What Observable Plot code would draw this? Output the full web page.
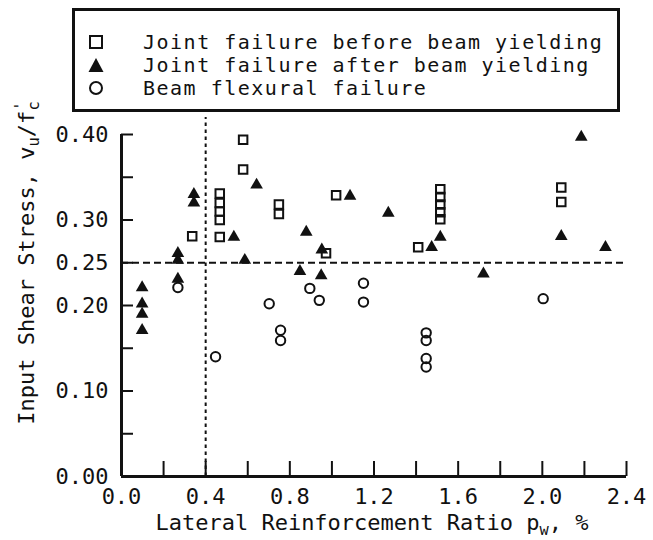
<!DOCTYPE html>
<html>
<head>
<meta charset="utf-8">
<script src="https://cdn.jsdelivr.net/npm/d3@7"></script>
<script src="https://cdn.jsdelivr.net/npm/@observablehq/plot@0.6"></script>
<style>
  body { margin: 0; background: #fff; }
  #wrap { position: relative; width: 653px; height: 540px; overflow: hidden;
          font-family: "DejaVu Sans Mono", monospace; color: #111; font-size: 22px; }
  #wrap > svg { position: absolute; left: 0; top: 0; }
  #legend { position: absolute; left: 72px; top: 8px; width: 542px; height: 98px;
            border: 3px solid #111; background: #fff; }
  #legend .row { position: absolute; left: 0; height: 23px; line-height: 23px; white-space: nowrap;
                 font-size: 20px; letter-spacing: 1.5px; }
  #legend .row svg { position: absolute; left: 13px; top: 3px; }
  #legend .row span { position: absolute; left: 68px; top: 0; }
  #ylab { position: absolute; left: 27px; top: 263px; white-space: nowrap; line-height: 26px;
          transform: translate(-50%, -50%) rotate(-90deg); }
  #xlab { position: absolute; left: 372px; top: 510px; white-space: nowrap; line-height: 26px;
          transform: translateX(-50%); }
  sub { font-size: 0.7em; vertical-align: -0.3em; line-height: 0; }
  sup { font-size: 0.7em; vertical-align: 0.5em; line-height: 0; }
</style>
</head>
<body>
<div id="wrap"></div>
<script>
// ---- data ----
const seriesLabels = [
  "Joint failure before beam yielding",
  "Joint failure after beam yielding",
  "Beam flexural failure"
];
// [lateral reinforcement ratio pw (%), input shear stress vu/f'c]
const jointBefore = [
  [0.336, 0.281],
  [0.467, 0.331], [0.467, 0.320], [0.467, 0.310], [0.467, 0.300], [0.467, 0.280],
  [0.578, 0.394], [0.578, 0.359],
  [0.748, 0.318], [0.748, 0.307],
  [0.972, 0.261],
  [1.02, 0.329],
  [1.41, 0.268],
  [1.515, 0.336], [1.515, 0.327], [1.515, 0.318], [1.515, 0.309], [1.515, 0.301],
  [2.09, 0.338], [2.09, 0.321]
];
const jointAfter = [
  [0.098, 0.221], [0.098, 0.202], [0.098, 0.190], [0.098, 0.171],
  [0.268, 0.261], [0.268, 0.253], [0.268, 0.231],
  [0.344, 0.330], [0.344, 0.320],
  [0.534, 0.280], [0.586, 0.253], [0.642, 0.341],
  [0.848, 0.240], [0.878, 0.286], [0.952, 0.265], [0.949, 0.235],
  [1.086, 0.328], [1.268, 0.308],
  [1.474, 0.268], [1.515, 0.280], [1.72, 0.237],
  [2.09, 0.281], [2.185, 0.397], [2.30, 0.268]
];
const beamFlexural = [
  [0.268, 0.221], [0.447, 0.140], [0.702, 0.202],
  [0.756, 0.171], [0.756, 0.159],
  [0.895, 0.220], [0.94, 0.206],
  [1.15, 0.226], [1.15, 0.204],
  [1.448, 0.168], [1.448, 0.159], [1.448, 0.138], [1.448, 0.128],
  [2.004, 0.208]
];
const xDomain = [0, 2.4];
const yDomain = [0, 0.40];
const xTickVals = [0.2, 0.4, 0.6, 0.8, 1.0, 1.2, 1.4, 1.6, 1.8, 2.0, 2.2, 2.4];
const xLabelVals = [0, 0.4, 0.8, 1.2, 1.6, 2.0, 2.4];
const yTickVals = [0.05, 0.10, 0.15, 0.20, 0.25, 0.30, 0.35, 0.40];
const yLabelVals = [0, 0.10, 0.20, 0.25, 0.30, 0.40];
const stressLimit = 0.25;   // horizontal dashed reference
const ratioLimit = 0.4;     // vertical dashed reference
const ratioLineTop = 0.42;  // vertical dashed line reaches slightly above the axis

const W = 653, H = 540, ML = 121, MR = 27, MT = 134, MB = 64;
const yTickLen = 12, xTickLen = 15;
const rows = pts => pts.map(([x, y]) => ({x, y}));
const ink = "#111";

const plot = Plot.plot({
  width: W,
  height: H,
  marginLeft: ML,
  marginRight: MR,
  marginTop: MT,
  marginBottom: MB,
  x: {domain: xDomain},
  y: {domain: yDomain},
  style: {fontFamily: "DejaVu Sans Mono", fontSize: "22px", background: "transparent", overflow: "visible", color: ink},
  marks: [
    Plot.ruleY([stressLimit], {x1: xDomain[0], x2: xDomain[1], stroke: ink, strokeWidth: 2, strokeDasharray: "7,4"}),
    Plot.ruleX([ratioLimit], {y1: yDomain[0], y2: ratioLineTop, stroke: ink, strokeWidth: 2, strokeDasharray: "3.5,3.5"}),
    // inward tick marks
    Plot.tickY(yTickVals, {y: d => d, insetRight: (W - ML - MR) - yTickLen, stroke: ink, strokeWidth: 2}),
    Plot.tickX(xTickVals, {x: d => d, insetTop: (H - MT - MB) - xTickLen, stroke: ink, strokeWidth: 2}),
    // tick labels
    Plot.axisY(yLabelVals, {tickSize: 0, tickPadding: 13, tickFormat: d3.format(".2f"), label: null, fill: ink}),
    Plot.axisX(xLabelVals, {tickSize: 0, tickPadding: 12, tickFormat: d3.format(".1f"), label: null, fill: ink}),
    // axis lines
    Plot.ruleX([xDomain[0]], {y1: yDomain[0], y2: yDomain[1], stroke: ink, strokeWidth: 3}),
    Plot.ruleY([yDomain[0]], {x1: xDomain[0], x2: xDomain[1], stroke: ink, strokeWidth: 3}),
    // data
    Plot.dot(rows(beamFlexural), {x: "x", y: "y", symbol: "circle", r: 4.7, fill: "none", stroke: ink, strokeWidth: 2}),
    Plot.dot(rows(jointBefore), {x: "x", y: "y", symbol: "square", r: 4.8, fill: "none", stroke: ink, strokeWidth: 2}),
    Plot.dot(rows(jointAfter), {x: "x", y: "y", symbol: "triangle", r: 4.7, fill: ink, stroke: "none"})
  ]
});

const wrap = document.getElementById("wrap");
wrap.appendChild(plot);

// legend
const legend = document.createElement("div");
legend.id = "legend";
const symbolsSvg = [
  '<svg width="16" height="16"><rect x="2" y="2" width="12" height="12" fill="none" stroke="#111" stroke-width="2"/></svg>',
  '<svg width="16" height="16"><path d="M8,1 L15.5,15 L0.5,15 Z" fill="#111"/></svg>',
  '<svg width="16" height="16"><circle cx="8" cy="8" r="6" fill="none" stroke="#111" stroke-width="2"/></svg>'
];
seriesLabels.forEach((label, i) => {
  const row = document.createElement("div");
  row.className = "row";
  row.style.top = (19.5 + i * 23.4) + "px";
  row.innerHTML = symbolsSvg[i] + "<span></span>";
  row.querySelector("span").textContent = label;
  legend.appendChild(row);
});
wrap.appendChild(legend);

// axis titles
const ylab = document.createElement("div");
ylab.id = "ylab";
ylab.innerHTML = "Input Shear Stress, v<sub>u</sub>/f<sup style=\"margin-right:-9px\">'</sup><sub>c</sub>";
wrap.appendChild(ylab);

const xlab = document.createElement("div");
xlab.id = "xlab";
xlab.innerHTML = "Lateral Reinforcement Ratio p<sub>w</sub>, %";
wrap.appendChild(xlab);
</script>
</body>
</html>
